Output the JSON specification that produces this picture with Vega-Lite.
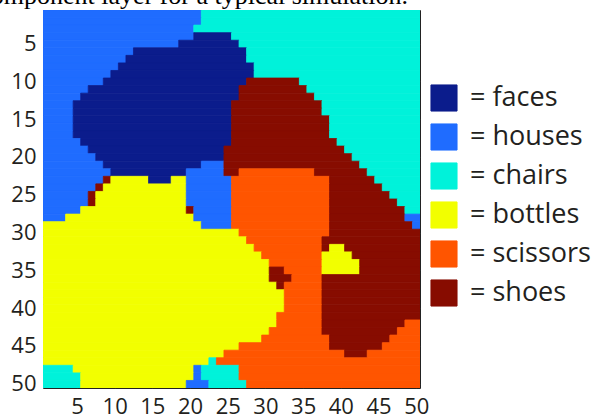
{
  "$schema": "https://vega.github.io/schema/vega-lite/v6.json",
  "width": 377,
  "height": 378,
  "autosize": {"type": "none"},
  "padding": {"left": 43, "top": 10, "right": 179, "bottom": 31},
  "background": "white",
  "title": {
    "text": "component layer for a typical simulation.",
    "font": "Liberation Serif",
    "fontSize": 26,
    "fontWeight": "normal",
    "color": "black",
    "anchor": "end",
    "frame": "group",
    "baseline": "alphabetic",
    "offset": 0,
    "dy": 20,
    "dx": -12
  },
  "config": {
    "view": {"stroke": "#222222", "strokeWidth": 1},
    "axis": {
      "domain": false,
      "grid": false,
      "zindex": 1,
      "labelFont": "Open Sans",
      "labelFontSize": 22,
      "labelColor": "#231f20",
      "tickColor": "#333333",
      "tickSize": -4,
      "title": null
    }
  },
  "data": {
    "values": [
      {"r":1,"a":0.5,"b":21.5,"k":"houses"},{"r":1,"a":21.5,"b":50.5,"k":"chairs"},
      {"r":2,"a":0.5,"b":21.5,"k":"houses"},{"r":2,"a":21.5,"b":50.5,"k":"chairs"},
      {"r":3,"a":0.5,"b":20.5,"k":"houses"},{"r":3,"a":20.5,"b":50.5,"k":"chairs"},
      {"r":4,"a":0.5,"b":20.5,"k":"houses"},{"r":4,"a":20.5,"b":25.5,"k":"faces"},{"r":4,"a":25.5,"b":50.5,"k":"chairs"},
      {"r":5,"a":0.5,"b":18.5,"k":"houses"},{"r":5,"a":18.5,"b":26.5,"k":"faces"},{"r":5,"a":26.5,"b":50.5,"k":"chairs"},
      {"r":6,"a":0.5,"b":12.5,"k":"houses"},{"r":6,"a":12.5,"b":27.5,"k":"faces"},{"r":6,"a":27.5,"b":50.5,"k":"chairs"},
      {"r":7,"a":0.5,"b":11.5,"k":"houses"},{"r":7,"a":11.5,"b":27.5,"k":"faces"},{"r":7,"a":27.5,"b":50.5,"k":"chairs"},
      {"r":8,"a":0.5,"b":10.5,"k":"houses"},{"r":8,"a":10.5,"b":28.5,"k":"faces"},{"r":8,"a":28.5,"b":50.5,"k":"chairs"},
      {"r":9,"a":0.5,"b":9.5,"k":"houses"},{"r":9,"a":9.5,"b":28.5,"k":"faces"},{"r":9,"a":28.5,"b":50.5,"k":"chairs"},
      {"r":10,"a":0.5,"b":8.5,"k":"houses"},{"r":10,"a":8.5,"b":27.5,"k":"faces"},{"r":10,"a":27.5,"b":34.5,"k":"shoes"},{"r":10,"a":34.5,"b":50.5,"k":"chairs"},
      {"r":11,"a":0.5,"b":6.5,"k":"houses"},{"r":11,"a":6.5,"b":26.5,"k":"faces"},{"r":11,"a":26.5,"b":35.5,"k":"shoes"},{"r":11,"a":35.5,"b":50.5,"k":"chairs"},
      {"r":12,"a":0.5,"b":5.5,"k":"houses"},{"r":12,"a":5.5,"b":26.5,"k":"faces"},{"r":12,"a":26.5,"b":36.5,"k":"shoes"},{"r":12,"a":36.5,"b":50.5,"k":"chairs"},
      {"r":13,"a":0.5,"b":4.5,"k":"houses"},{"r":13,"a":4.5,"b":25.5,"k":"faces"},{"r":13,"a":25.5,"b":37.5,"k":"shoes"},{"r":13,"a":37.5,"b":50.5,"k":"chairs"},
      {"r":14,"a":0.5,"b":4.5,"k":"houses"},{"r":14,"a":4.5,"b":25.5,"k":"faces"},{"r":14,"a":25.5,"b":37.5,"k":"shoes"},{"r":14,"a":37.5,"b":50.5,"k":"chairs"},
      {"r":15,"a":0.5,"b":4.5,"k":"houses"},{"r":15,"a":4.5,"b":25.5,"k":"faces"},{"r":15,"a":25.5,"b":38.5,"k":"shoes"},{"r":15,"a":38.5,"b":50.5,"k":"chairs"},
      {"r":16,"a":0.5,"b":4.5,"k":"houses"},{"r":16,"a":4.5,"b":25.5,"k":"faces"},{"r":16,"a":25.5,"b":38.5,"k":"shoes"},{"r":16,"a":38.5,"b":50.5,"k":"chairs"},
      {"r":17,"a":0.5,"b":4.5,"k":"houses"},{"r":17,"a":4.5,"b":25.5,"k":"faces"},{"r":17,"a":25.5,"b":38.5,"k":"shoes"},{"r":17,"a":38.5,"b":50.5,"k":"chairs"},
      {"r":18,"a":0.5,"b":5.5,"k":"houses"},{"r":18,"a":5.5,"b":25.5,"k":"faces"},{"r":18,"a":25.5,"b":39.5,"k":"shoes"},{"r":18,"a":39.5,"b":50.5,"k":"chairs"},
      {"r":19,"a":0.5,"b":6.5,"k":"houses"},{"r":19,"a":6.5,"b":24.5,"k":"faces"},{"r":19,"a":24.5,"b":40.5,"k":"shoes"},{"r":19,"a":40.5,"b":50.5,"k":"chairs"},
      {"r":20,"a":0.5,"b":7.5,"k":"houses"},{"r":20,"a":7.5,"b":24.5,"k":"faces"},{"r":20,"a":24.5,"b":41.5,"k":"shoes"},{"r":20,"a":41.5,"b":50.5,"k":"chairs"},
      {"r":21,"a":0.5,"b":8.5,"k":"houses"},{"r":21,"a":8.5,"b":21.5,"k":"faces"},{"r":21,"a":21.5,"b":24.5,"k":"houses"},{"r":21,"a":24.5,"b":42.5,"k":"shoes"},{"r":21,"a":42.5,"b":50.5,"k":"chairs"},
      {"r":22,"a":0.5,"b":9.5,"k":"houses"},{"r":22,"a":9.5,"b":19.5,"k":"faces"},{"r":22,"a":19.5,"b":24.5,"k":"houses"},{"r":22,"a":24.5,"b":26.5,"k":"shoes"},{"r":22,"a":26.5,"b":36.5,"k":"scissors"},{"r":22,"a":36.5,"b":43.5,"k":"shoes"},{"r":22,"a":43.5,"b":50.5,"k":"chairs"},
      {"r":23,"a":0.5,"b":8.5,"k":"houses"},{"r":23,"a":8.5,"b":9.5,"k":"shoes"},{"r":23,"a":9.5,"b":14.5,"k":"bottles"},{"r":23,"a":14.5,"b":17.5,"k":"faces"},{"r":23,"a":17.5,"b":19.5,"k":"bottles"},{"r":23,"a":19.5,"b":25.5,"k":"houses"},{"r":23,"a":25.5,"b":38.5,"k":"scissors"},{"r":23,"a":38.5,"b":44.5,"k":"shoes"},{"r":23,"a":44.5,"b":50.5,"k":"chairs"},
      {"r":24,"a":0.5,"b":7.5,"k":"houses"},{"r":24,"a":7.5,"b":8.5,"k":"shoes"},{"r":24,"a":8.5,"b":19.5,"k":"bottles"},{"r":24,"a":19.5,"b":25.5,"k":"houses"},{"r":24,"a":25.5,"b":38.5,"k":"scissors"},{"r":24,"a":38.5,"b":45.5,"k":"shoes"},{"r":24,"a":45.5,"b":50.5,"k":"chairs"},
      {"r":25,"a":0.5,"b":6.5,"k":"houses"},{"r":25,"a":6.5,"b":7.5,"k":"shoes"},{"r":25,"a":7.5,"b":19.5,"k":"bottles"},{"r":25,"a":19.5,"b":25.5,"k":"houses"},{"r":25,"a":25.5,"b":38.5,"k":"scissors"},{"r":25,"a":38.5,"b":46.5,"k":"shoes"},{"r":25,"a":46.5,"b":50.5,"k":"chairs"},
      {"r":26,"a":0.5,"b":6.5,"k":"houses"},{"r":26,"a":6.5,"b":7.5,"k":"shoes"},{"r":26,"a":7.5,"b":19.5,"k":"bottles"},{"r":26,"a":19.5,"b":25.5,"k":"houses"},{"r":26,"a":25.5,"b":38.5,"k":"scissors"},{"r":26,"a":38.5,"b":47.5,"k":"shoes"},{"r":26,"a":47.5,"b":50.5,"k":"chairs"},
      {"r":27,"a":0.5,"b":5.5,"k":"houses"},{"r":27,"a":5.5,"b":19.5,"k":"bottles"},{"r":27,"a":19.5,"b":20.5,"k":"shoes"},{"r":27,"a":20.5,"b":25.5,"k":"houses"},{"r":27,"a":25.5,"b":38.5,"k":"scissors"},{"r":27,"a":38.5,"b":48.5,"k":"shoes"},{"r":27,"a":48.5,"b":50.5,"k":"chairs"},
      {"r":28,"a":0.5,"b":3.5,"k":"houses"},{"r":28,"a":3.5,"b":20.5,"k":"bottles"},{"r":28,"a":20.5,"b":25.5,"k":"houses"},{"r":28,"a":25.5,"b":38.5,"k":"scissors"},{"r":28,"a":38.5,"b":48.5,"k":"shoes"},{"r":28,"a":48.5,"b":50.5,"k":"houses"},
      {"r":29,"a":0.5,"b":21.5,"k":"bottles"},{"r":29,"a":21.5,"b":25.5,"k":"houses"},{"r":29,"a":25.5,"b":38.5,"k":"scissors"},{"r":29,"a":38.5,"b":49.5,"k":"shoes"},{"r":29,"a":49.5,"b":50.5,"k":"houses"},
      {"r":30,"a":0.5,"b":26.5,"k":"bottles"},{"r":30,"a":26.5,"b":38.5,"k":"scissors"},{"r":30,"a":38.5,"b":50.5,"k":"shoes"},
      {"r":31,"a":0.5,"b":27.5,"k":"bottles"},{"r":31,"a":27.5,"b":37.5,"k":"scissors"},{"r":31,"a":37.5,"b":50.5,"k":"shoes"},
      {"r":32,"a":0.5,"b":28.5,"k":"bottles"},{"r":32,"a":28.5,"b":37.5,"k":"scissors"},{"r":32,"a":37.5,"b":38.5,"k":"shoes"},{"r":32,"a":38.5,"b":40.5,"k":"bottles"},{"r":32,"a":40.5,"b":50.5,"k":"shoes"},
      {"r":33,"a":0.5,"b":29.5,"k":"bottles"},{"r":33,"a":29.5,"b":37.5,"k":"scissors"},{"r":33,"a":37.5,"b":41.5,"k":"bottles"},{"r":33,"a":41.5,"b":50.5,"k":"shoes"},
      {"r":34,"a":0.5,"b":30.5,"k":"bottles"},{"r":34,"a":30.5,"b":37.5,"k":"scissors"},{"r":34,"a":37.5,"b":42.5,"k":"bottles"},{"r":34,"a":42.5,"b":50.5,"k":"shoes"},
      {"r":35,"a":0.5,"b":30.5,"k":"bottles"},{"r":35,"a":30.5,"b":32.5,"k":"shoes"},{"r":35,"a":32.5,"b":37.5,"k":"scissors"},{"r":35,"a":37.5,"b":42.5,"k":"bottles"},{"r":35,"a":42.5,"b":50.5,"k":"shoes"},
      {"r":36,"a":0.5,"b":30.5,"k":"bottles"},{"r":36,"a":30.5,"b":33.5,"k":"shoes"},{"r":36,"a":33.5,"b":37.5,"k":"scissors"},{"r":36,"a":37.5,"b":50.5,"k":"shoes"},
      {"r":37,"a":0.5,"b":31.5,"k":"bottles"},{"r":37,"a":31.5,"b":32.5,"k":"shoes"},{"r":37,"a":32.5,"b":37.5,"k":"scissors"},{"r":37,"a":37.5,"b":50.5,"k":"shoes"},
      {"r":38,"a":0.5,"b":32.5,"k":"bottles"},{"r":38,"a":32.5,"b":37.5,"k":"scissors"},{"r":38,"a":37.5,"b":50.5,"k":"shoes"},
      {"r":39,"a":0.5,"b":32.5,"k":"bottles"},{"r":39,"a":32.5,"b":37.5,"k":"scissors"},{"r":39,"a":37.5,"b":50.5,"k":"shoes"},
      {"r":40,"a":0.5,"b":32.5,"k":"bottles"},{"r":40,"a":32.5,"b":37.5,"k":"scissors"},{"r":40,"a":37.5,"b":50.5,"k":"shoes"},
      {"r":41,"a":0.5,"b":31.5,"k":"bottles"},{"r":41,"a":31.5,"b":37.5,"k":"scissors"},{"r":41,"a":37.5,"b":50.5,"k":"shoes"},
      {"r":42,"a":0.5,"b":31.5,"k":"bottles"},{"r":42,"a":31.5,"b":37.5,"k":"scissors"},{"r":42,"a":37.5,"b":48.5,"k":"shoes"},{"r":42,"a":48.5,"b":50.5,"k":"scissors"},
      {"r":43,"a":0.5,"b":30.5,"k":"bottles"},{"r":43,"a":30.5,"b":37.5,"k":"scissors"},{"r":43,"a":37.5,"b":47.5,"k":"shoes"},{"r":43,"a":47.5,"b":50.5,"k":"scissors"},
      {"r":44,"a":0.5,"b":29.5,"k":"bottles"},{"r":44,"a":29.5,"b":38.5,"k":"scissors"},{"r":44,"a":38.5,"b":46.5,"k":"shoes"},{"r":44,"a":46.5,"b":50.5,"k":"scissors"},
      {"r":45,"a":0.5,"b":26.5,"k":"bottles"},{"r":45,"a":26.5,"b":38.5,"k":"scissors"},{"r":45,"a":38.5,"b":45.5,"k":"shoes"},{"r":45,"a":45.5,"b":50.5,"k":"scissors"},
      {"r":46,"a":0.5,"b":24.5,"k":"bottles"},{"r":46,"a":24.5,"b":40.5,"k":"scissors"},{"r":46,"a":40.5,"b":43.5,"k":"shoes"},{"r":46,"a":43.5,"b":50.5,"k":"scissors"},
      {"r":47,"a":0.5,"b":22.5,"k":"bottles"},{"r":47,"a":22.5,"b":23.5,"k":"chairs"},{"r":47,"a":23.5,"b":50.5,"k":"scissors"},
      {"r":48,"a":0.5,"b":4.5,"k":"chairs"},{"r":48,"a":4.5,"b":20.5,"k":"bottles"},{"r":48,"a":20.5,"b":21.5,"k":"houses"},{"r":48,"a":21.5,"b":26.5,"k":"chairs"},{"r":48,"a":26.5,"b":50.5,"k":"scissors"},
      {"r":49,"a":0.5,"b":5.5,"k":"chairs"},{"r":49,"a":5.5,"b":20.5,"k":"bottles"},{"r":49,"a":20.5,"b":21.5,"k":"houses"},{"r":49,"a":21.5,"b":26.5,"k":"chairs"},{"r":49,"a":26.5,"b":50.5,"k":"scissors"},
      {"r":50,"a":0.5,"b":5.5,"k":"chairs"},{"r":50,"a":5.5,"b":19.5,"k":"bottles"},{"r":50,"a":19.5,"b":22.5,"k":"houses"},{"r":50,"a":22.5,"b":27.5,"k":"chairs"},{"r":50,"a":27.5,"b":50.5,"k":"scissors"}
    ]
  },
  "layer": [
    {
      "mark": {"type": "rect", "strokeWidth": 0.8, "clip": true},
      "encoding": {
        "x": {
          "field": "a", "type": "quantitative",
          "scale": {"domain": [0.5, 50.5], "nice": false, "zero": false},
          "axis": {"orient": "bottom", "values": [5,10,15,20,25,30,35,40,45,50], "labelPadding": 12}
        },
        "x2": {"field": "b"},
        "y": {
          "field": "r", "type": "ordinal",
          "scale": {"domain": [1,2,3,4,5,6,7,8,9,10,11,12,13,14,15,16,17,18,19,20,21,22,23,24,25,26,27,28,29,30,31,32,33,34,35,36,37,38,39,40,41,42,43,44,45,46,47,48,49,50], "paddingInner": 0, "paddingOuter": 0},
          "axis": {"orient": "left", "values": [5,10,15,20,25,30,35,40,45,50], "labelPadding": 11}
        },
        "stroke": {
          "field": "k", "type": "nominal",
          "scale": {
            "domain": ["faces", "houses", "chairs", "bottles", "scissors", "shoes"],
            "range": ["#0b1c8c", "#1f6cff", "#00f2da", "#f2ff00", "#ff5500", "#870c00"]
          },
          "legend": null
        },
        "color": {
          "field": "k", "type": "nominal",
          "scale": {
            "domain": ["faces", "houses", "chairs", "bottles", "scissors", "shoes"],
            "range": ["#0b1c8c", "#1f6cff", "#00f2da", "#f2ff00", "#ff5500", "#870c00"]
          },
          "legend": {
            "title": null,
            "orient": "none",
            "legendX": 387,
            "legendY": 74,
            "padding": 0,
            "symbolType": "square",
            "symbolSize": 680,
            "symbolStrokeColor": "#111111",
            "symbolStrokeWidth": 1,
            "symbolOpacity": 1,
            "labelFont": "Open Sans",
            "labelFontSize": 27,
            "labelColor": "#231f20",
            "labelOffset": 12,
            "rowPadding": 7,
            "labelExpr": "'= ' + datum.label"
          }
        }
      }
    },
    {
      "mark": {"type": "rect", "opacity": 0},
      "encoding": {
        "x": {"field": "a", "type": "quantitative", "axis": {"orient": "top", "values": [5,10,15,20,25,30,35,40,45,50], "labels": false}},
        "x2": {"field": "b"},
        "y": {"field": "r", "type": "ordinal", "axis": {"orient": "right", "values": [5,10,15,20,25,30,35,40,45,50], "labels": false}}
      }
    }
  ],
  "resolve": {"axis": {"x": "independent", "y": "independent"}}
}
